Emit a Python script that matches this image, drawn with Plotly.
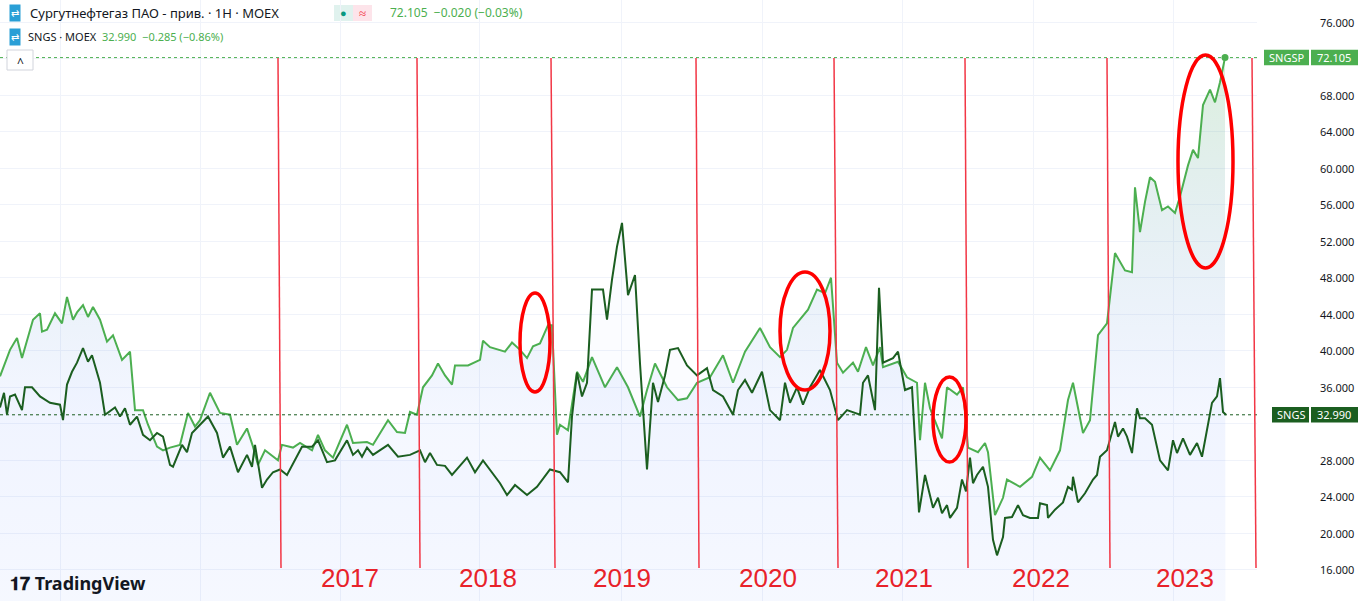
import plotly.graph_objects as go

# bar index (TradingView x axis) and prices
sngsp_i = [0,10,17,22,33,40,42,47,55,62,67,73,77,83,88,93,100,107,113,122,130,135,143,148,157,163,170,180,188,195,200,210,220,230,237,247,253,258,265,278,282,293,300,312,318,325,333,347,353,367,373,388,397,405,410,417,423,432,438,445,
           452,455,468,480,483,490,505,512,520,527,533,540,548,552,557,560,568,577,583,592,605,617,628,640,647,655,667,678,687,697,710,723,733,745,760,770,780,787,793,808,817,825,831,837,843,853,858,866,
           873,880,883,898,907,917,920,925,930,942,947,957,963,968,978,985,988,995,1003,1007,1020,1032,1040,1050,1060,1068,1073,1078,1083,1090,1093,1098,1107,1115,1125,1132,1135,1140,1145,1150,1155,1162,1168,1175,1180,1188,1193,1198,1203,1210,1215,1220,1225]
sngsp_v = [37.2,40.1,41.4,39.2,43.4,44.1,42.1,42.3,44.1,43.0,45.9,43.4,44.2,45.0,43.7,44.8,43.4,41.0,41.7,39.0,39.9,33.5,33.5,31.9,29.5,29.1,29.4,29.7,33.2,31.7,32.4,35.4,33.2,33.0,29.7,31.5,29.5,27.5,29.1,28.0,29.7,29.4,29.9,29.1,30.8,29.1,28.3,31.9,29.9,30.0,29.7,32.4,31.1,31.0,33.3,33.0,36.0,37.3,38.6,37.3,
           36.3,38.4,38.4,39.0,41.1,40.4,39.9,40.9,40.1,39.2,40.5,40.8,42.8,42.8,30.8,31.9,31.3,37.7,36.6,39.3,36.0,38.2,36.0,32.8,35.7,38.6,36.0,34.6,34.8,36.5,37.1,39.5,36.5,39.9,42.5,40.4,39.3,40.1,42.5,44.5,46.7,46.3,48.0,38.7,37.6,38.7,37.7,40.4,
           38.4,40.4,38.2,38.8,37.1,36.5,30.2,36.5,33.7,30.4,36.0,35.2,36.0,29.4,28.9,29.9,28.9,22.0,23.9,25.9,25.1,26.2,28.3,26.9,29.1,34.6,36.5,33.6,31.0,32.4,36.0,41.7,43.0,50.7,48.8,48.6,57.9,53.0,56.3,59.0,58.5,55.4,55.8,55.1,56.9,60.3,62.0,61.1,66.9,68.6,67.2,69.4,72.105]

sngs_i = [0,4,7,10,15,22,25,32,40,50,60,63,67,72,77,83,88,92,100,105,115,120,125,130,137,143,150,157,163,170,173,182,187,192,200,208,217,223,230,238,247,252,255,262,267,273,280,287,302,312,318,327,335,347,353,358,362,367,373,388,398,410,420,425,430,437,
          445,452,467,475,483,500,507,515,527,537,550,560,568,572,577,582,587,592,603,607,612,617,622,628,635,640,647,653,658,665,670,678,687,697,707,713,723,733,738,745,752,762,770,780,785,790,797,803,810,820,830,838,847,853,860,
          863,868,875,879,883,893,898,905,912,919,925,933,938,942,947,950,957,962,966,970,973,977,983,988,993,997,1003,1005,1012,1018,1023,1030,1038,1040,1047,1048,1055,1063,1068,1072,1073,1078,1085,1093,1097,1100,1107,1115,1118,1123,1127,1132,1137,1140,1145,1152,1160,1168,1173,1177,1183,1190,1197,1202,1212,1217,1220,1223,1226]
sngs_v = [33.8,35.4,33.0,35.0,35.2,33.5,36.0,36.0,35.0,34.3,34.1,32.4,36.3,37.7,38.7,40.3,38.8,39.5,36.5,33.0,33.8,32.8,33.7,31.9,32.8,30.8,30.2,31.0,30.6,27.5,27.3,29.7,28.9,31.0,31.9,32.8,31.0,28.3,29.5,26.7,28.6,27.3,29.7,25.0,25.9,26.7,27.0,26.4,29.5,29.5,30.2,27.8,28.0,30.2,28.6,29.1,28.4,29.4,28.6,29.7,28.4,28.6,29.1,27.8,28.8,27.5,
          27.4,26.4,28.3,26.7,28.0,25.5,24.2,25.3,24.2,25.1,27.0,26.7,25.6,32.8,37.6,35.0,36.5,46.7,46.7,43.4,47.8,51.4,54.0,46.1,48.3,38.6,27.0,36.5,34.4,37.3,40.1,40.3,38.4,37.3,38.1,35.7,35.0,33.0,35.7,36.8,35.4,37.7,33.5,32.4,36.5,34.3,36.0,34.1,36.0,37.9,35.7,32.4,33.5,33.3,33.0,
          36.5,37.3,33.5,46.9,38.7,39.2,39.9,35.7,36.0,22.3,26.4,22.8,23.9,22.2,23.1,21.7,22.8,25.9,24.6,28.3,25.5,26.4,27.3,25.1,19.3,17.6,19.6,21.7,21.8,23.1,22.0,21.7,21.7,23.3,23.1,21.7,22.6,23.4,25.1,24.8,26.2,23.4,24.4,25.9,26.4,28.4,29.1,32.2,30.6,31.5,30.6,28.8,33.7,32.6,32.6,31.9,28.0,26.9,30.2,28.8,30.4,28.6,29.9,28.4,34.3,35.0,37.0,33.3,32.99]

y_ticks = [16,20,24,28,32,36,40,44,48,52,56,60,64,68,72,76]
grid_x = [60,200,340,479,621,762,902,1033,1173]
years = ["2017","2018","2019","2020","2021","2022","2023"]
year_x = [350,488,622,768,904,1041,1185]
red_lines = [(278,281),(417,420),(551,555),(696,699),(834,838),(965,968),(1107,1110),(1252,1256)]
ellipses = [(520,293,550,392),(780,272,830,390),(933,377,966,462),(1178,55,1233,268)]

LIGHT = "#4caf50"
DARK = "#1b5e20"
W, H = 1360, 601
PW = 1257
XR = [0, PW]
YR = [12.6, 78.41]

fig = go.Figure()
fig.add_trace(go.Scatter(x=sngsp_i, y=sngsp_v, mode="lines", line=dict(color=LIGHT, width=2),
                         fill="tozeroy",
                         fillgradient=dict(type="vertical",
                                           colorscale=[[0, "rgba(41,98,255,0.01)"], [0.45, "rgba(41,98,255,0.05)"], [1, "rgba(76,175,80,0.20)"]]),
                         hoverinfo="skip"))
fig.add_trace(go.Scatter(x=sngs_i, y=sngs_v, mode="lines", line=dict(color=DARK, width=2),
                         fill="tozeroy", fillcolor="rgba(41,98,255,0.02)", hoverinfo="skip"))
fig.add_trace(go.Scatter(x=[sngsp_i[-1]], y=[sngsp_v[-1]], mode="markers",
                         marker=dict(color=LIGHT, size=7), hoverinfo="skip"))

shapes = []
for v, c in [(sngsp_v[-1], LIGHT), (sngs_v[-1], DARK)]:
    shapes.append(dict(type="line", xref="paper", yref="y", x0=0, x1=1, y0=v, y1=v,
                       line=dict(color=c, width=1, dash="dot")))
def px2x(p): return p / PW
def py2y(p): return 1 - p / H
for (a, b) in red_lines:
    shapes.append(dict(type="line", xref="paper", yref="paper", x0=px2x(a), x1=px2x(b),
                       y0=py2y(58), y1=py2y(568), line=dict(color="#f23645", width=1.5)))
for (x0, y0, x1, y1) in ellipses:
    shapes.append(dict(type="circle", xref="paper", yref="paper", x0=px2x(x0), x1=px2x(x1),
                       y0=py2y(y1), y1=py2y(y0), line=dict(color="#ff0000", width=3.5)))
shapes.append(dict(type="rect", xref="paper", yref="paper", x0=px2x(7), x1=px2x(33), y0=py2y(70), y1=py2y(50),
                   line=dict(color="#d1d4dc", width=1), fillcolor="white"))
for v, c, name in [(sngsp_v[-1], LIGHT, "SNGSP"), (sngs_v[-1], DARK, "SNGS")]:
    x0 = 1264 if name == "SNGSP" else 1272
    shapes.append(dict(type="rect", xref="paper", yref="y", x0=px2x(x0), x1=px2x(1309),
                       y0=v - 0.85, y1=v + 0.85, fillcolor=c, line=dict(width=0)))
    shapes.append(dict(type="rect", xref="paper", yref="y", x0=px2x(1311), x1=px2x(1358),
                       y0=v - 0.85, y1=v + 0.85, fillcolor=c, line=dict(width=0)))
shapes.append(dict(type="rect", xref="paper", yref="paper", x0=px2x(334), x1=px2x(353), y0=py2y(21), y1=py2y(5),
                   fillcolor="#e0f2ee", line=dict(width=0), layer="below"))
shapes.append(dict(type="rect", xref="paper", yref="paper", x0=px2x(353), x1=px2x(372), y0=py2y(21), y1=py2y(5),
                   fillcolor="#fde4ea", line=dict(width=0), layer="below"))

ann = []
F = "Noto Sans"
def A(px, py, text, size, color, xanchor="center", family=F):
    ann.append(dict(x=px2x(px), y=py2y(py), xref="paper", yref="paper", xanchor=xanchor, yanchor="middle",
                    text=text, showarrow=False, font=dict(family=family, size=size, color=color)))
A(28, 13, "Сургутнефтегаз ПАО - прив. · 1Н · MOEX", 13, "#131722", "left")
A(343, 13, "<span style='color:#089981'>●</span>", 11, "#089981")
A(362, 13, "<span style='color:#f23645'>≈</span>", 13, "#f23645")
A(388, 13, "72.105  −0.020 (−0.03%)", 12, LIGHT, "left")
A(26, 37, "SNGS · MOEX  <span style='color:#4caf50'>32.990  −0.285 (−0.86%)</span>", 11, "#131722", "left")
for yy in (13, 37):
    ann.append(dict(x=px2x(15), y=py2y(yy), xref="paper", yref="paper", xanchor="center", yanchor="middle",
                    text="⇄", showarrow=False, font=dict(size=10, color="white"), bgcolor="#2a9fd6", borderpad=1))
A(20, 62, "^", 12, "#131722")
for v, name in [(sngsp_v[-1], "SNGSP"), (sngs_v[-1], "SNGS")]:
    cx = 1286.5 if name == "SNGSP" else 1290.5
    ann.append(dict(x=px2x(cx), y=v, xref="paper", yref="y", xanchor="center", yanchor="middle", text=name,
                    showarrow=False, font=dict(family=F, size=11, color="white")))
    ann.append(dict(x=px2x(1334.5), y=v, xref="paper", yref="y", xanchor="center", yanchor="middle",
                    text=f"{v:.3f}", showarrow=False, font=dict(family=F, size=11, color="white")))
for t in y_ticks:
    if abs(t - sngsp_v[-1]) < 1.5 or abs(t - sngs_v[-1]) < 1.2:
        continue
    ann.append(dict(x=px2x(1356), y=t, xref="paper", yref="y", xanchor="right", yanchor="middle",
                    text=f"{t:.3f}", showarrow=False, font=dict(family=F, size=11, color="#131722")))
for yr, xx in zip(years, year_x):
    A(xx, 578, yr, 26, "#e8222a", family="Liberation Sans")
A(8, 583, "<b>𝟏𝟕 TradingView</b>", 18, "#131722", "left")

fig.update_layout(
    width=W, height=H, margin=dict(l=0, r=W - PW, t=0, b=0),
    plot_bgcolor="white", paper_bgcolor="white", showlegend=False,
    xaxis=dict(range=XR, tickvals=grid_x, showticklabels=False, showgrid=True, gridcolor="#f0f3fa",
               zeroline=False, fixedrange=True),
    yaxis=dict(range=YR, tickvals=y_ticks, showticklabels=False, showgrid=True, gridcolor="#f0f3fa",
               zeroline=False, fixedrange=True),
    shapes=shapes, annotations=ann,
)
fig.write_html("out.html", config={"displayModeBar": False})
with open("out.html", encoding="utf-8") as f:
    html = f.read()
html = html.replace("<head>", "<head><style>html,body{margin:0;padding:0;overflow:hidden;}</style>", 1)
with open("out.html", "w", encoding="utf-8") as f:
    f.write(html)
